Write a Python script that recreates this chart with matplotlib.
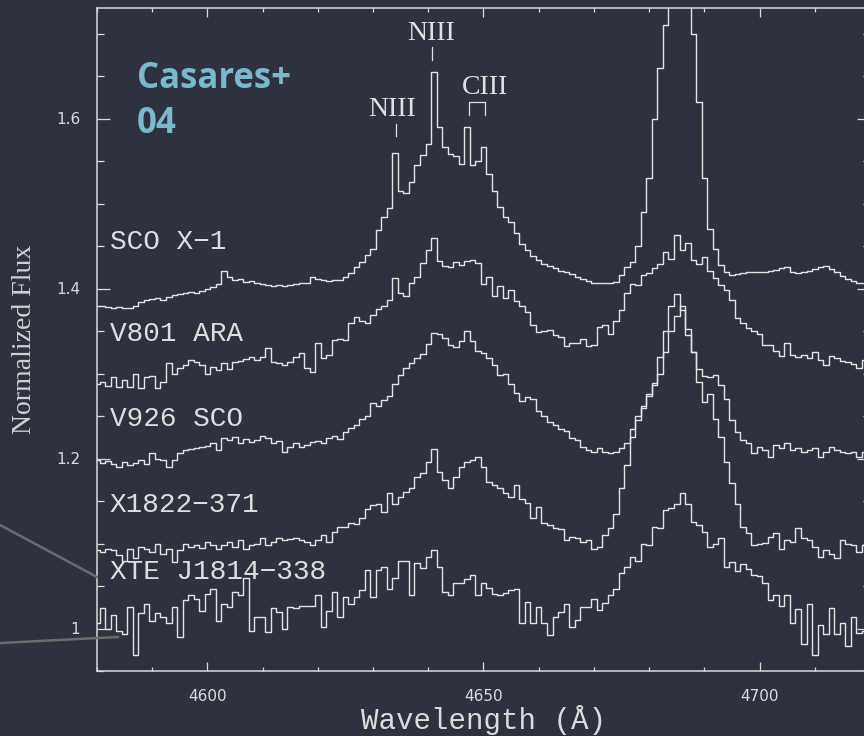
import numpy as np
import matplotlib
matplotlib.use("Agg")
import matplotlib.pyplot as plt
from matplotlib.lines import Line2D
from matplotlib.ticker import MultipleLocator, FormatStrFormatter

# wavelength grid (1 A bins) and normalized flux of each star
wave_start = 4580.0
wave_step = 1.0

sco_x1 = [
    1.379, 1.380, 1.378, 1.377, 1.378, 1.377, 1.377, 1.380, 1.384, 1.386,
    1.388, 1.389, 1.387, 1.390, 1.392, 1.393, 1.395, 1.396, 1.395, 1.397,
    1.400, 1.402, 1.405, 1.421, 1.413, 1.410, 1.411, 1.408, 1.409, 1.407,
    1.405, 1.404, 1.403, 1.404, 1.403, 1.404, 1.405, 1.406, 1.406, 1.414,
    1.411, 1.410, 1.409, 1.410, 1.410, 1.413, 1.418, 1.425, 1.431, 1.440,
    1.447, 1.469, 1.484, 1.495, 1.560, 1.515, 1.512, 1.525, 1.545, 1.557,
    1.570, 1.655, 1.590, 1.566, 1.558, 1.556, 1.546, 1.590, 1.545, 1.550,
    1.566, 1.535, 1.515, 1.496, 1.484, 1.478, 1.465, 1.452, 1.445, 1.438,
    1.433, 1.429, 1.426, 1.424, 1.421, 1.419, 1.417, 1.414, 1.411, 1.409,
    1.407, 1.406, 1.406, 1.406, 1.408, 1.416, 1.425, 1.431, 1.450, 1.490,
    1.530, 1.600, 1.660, 1.710, 1.780, 1.850, 1.860, 1.850, 1.700, 1.620,
    1.530, 1.470, 1.446, 1.428, 1.419, 1.416, 1.417, 1.418, 1.419, 1.420,
    1.420, 1.419, 1.421, 1.422, 1.424, 1.425, 1.420, 1.418, 1.420, 1.421,
    1.423, 1.425, 1.426, 1.423, 1.420, 1.415, 1.411, 1.409, 1.407, 1.406,
    1.406,
]

v801_ara = [
    1.288, 1.290, 1.285, 1.296, 1.284, 1.292, 1.284, 1.300, 1.283, 1.296,
    1.297, 1.283, 1.290, 1.312, 1.300, 1.307, 1.310, 1.316, 1.313, 1.310,
    1.300, 1.308, 1.304, 1.312, 1.305, 1.313, 1.315, 1.317, 1.319, 1.316,
    1.320, 1.330, 1.313, 1.312, 1.310, 1.313, 1.320, 1.324, 1.307, 1.302,
    1.336, 1.318, 1.322, 1.340, 1.341, 1.339, 1.360, 1.366, 1.362, 1.360,
    1.369, 1.376, 1.380, 1.386, 1.412, 1.395, 1.391, 1.406, 1.413, 1.430,
    1.445, 1.459, 1.432, 1.427, 1.425, 1.431, 1.428, 1.432, 1.433, 1.430,
    1.405, 1.413, 1.391, 1.403, 1.389, 1.398, 1.385, 1.380, 1.372, 1.357,
    1.349, 1.350, 1.351, 1.345, 1.343, 1.332, 1.336, 1.336, 1.341, 1.332,
    1.333, 1.355, 1.357, 1.347, 1.362, 1.375, 1.395, 1.405, 1.404, 1.416,
    1.418, 1.424, 1.429, 1.443, 1.435, 1.463, 1.445, 1.453, 1.433, 1.429,
    1.437, 1.421, 1.412, 1.404, 1.398, 1.386, 1.365, 1.359, 1.353, 1.350,
    1.347, 1.333, 1.333, 1.327, 1.321, 1.336, 1.322, 1.319, 1.322, 1.318,
    1.325, 1.316, 1.310, 1.321, 1.318, 1.315, 1.313, 1.311, 1.307, 1.316,
    1.316,
]

v926_sco = [
    1.198, 1.195, 1.197, 1.194, 1.190, 1.196, 1.192, 1.195, 1.198, 1.194,
    1.206, 1.200, 1.198, 1.190, 1.198, 1.206, 1.210, 1.211, 1.212, 1.214,
    1.215, 1.218, 1.210, 1.224, 1.222, 1.225, 1.218, 1.223, 1.219, 1.222,
    1.227, 1.224, 1.218, 1.221, 1.208, 1.214, 1.218, 1.214, 1.216, 1.220,
    1.221, 1.218, 1.224, 1.227, 1.223, 1.231, 1.236, 1.239, 1.247, 1.250,
    1.265, 1.262, 1.269, 1.274, 1.288, 1.298, 1.306, 1.312, 1.318, 1.323,
    1.335, 1.348, 1.346, 1.342, 1.333, 1.331, 1.338, 1.350, 1.338, 1.327,
    1.324, 1.318, 1.310, 1.298, 1.300, 1.288, 1.277, 1.268, 1.272, 1.270,
    1.256, 1.250, 1.243, 1.239, 1.235, 1.232, 1.224, 1.222, 1.214, 1.210,
    1.208, 1.212, 1.208, 1.206, 1.208, 1.212, 1.218, 1.235, 1.245, 1.260,
    1.274, 1.289, 1.319, 1.350, 1.380, 1.394, 1.375, 1.345, 1.325, 1.305,
    1.297, 1.296, 1.298, 1.286, 1.270, 1.245, 1.231, 1.222, 1.218, 1.206,
    1.214, 1.210, 1.202, 1.216, 1.212, 1.218, 1.210, 1.212, 1.208, 1.210,
    1.212, 1.202, 1.208, 1.214, 1.210, 1.208, 1.206, 1.208, 1.202, 1.208,
    1.206,
]

x1822_371 = [
    1.092, 1.090, 1.094, 1.092, 1.086, 1.080, 1.094, 1.083, 1.096, 1.094,
    1.090, 1.100, 1.088, 1.094, 1.078, 1.092, 1.100, 1.096, 1.098, 1.095,
    1.102, 1.098, 1.094, 1.098, 1.102, 1.096, 1.104, 1.094, 1.098, 1.100,
    1.107, 1.098, 1.102, 1.106, 1.104, 1.105, 1.107, 1.104, 1.102, 1.098,
    1.104, 1.110, 1.102, 1.113, 1.119, 1.120, 1.124, 1.123, 1.130, 1.141,
    1.145, 1.146, 1.137, 1.159, 1.147, 1.155, 1.161, 1.165, 1.178, 1.183,
    1.196, 1.211, 1.184, 1.175, 1.165, 1.178, 1.190, 1.196, 1.198, 1.202,
    1.190, 1.172, 1.169, 1.165, 1.160, 1.155, 1.169, 1.152, 1.148, 1.130,
    1.143, 1.124, 1.122, 1.118, 1.117, 1.104, 1.108, 1.106, 1.102, 1.104,
    1.094, 1.096, 1.110, 1.118, 1.135, 1.165, 1.192, 1.225, 1.250, 1.262,
    1.276, 1.287, 1.300, 1.325, 1.350, 1.368, 1.380, 1.352, 1.325, 1.290,
    1.266, 1.276, 1.246, 1.225, 1.196, 1.171, 1.147, 1.120, 1.112, 1.098,
    1.100, 1.101, 1.108, 1.112, 1.094, 1.104, 1.102, 1.118, 1.106, 1.104,
    1.096, 1.084, 1.092, 1.088, 1.083, 1.104, 1.100, 1.098, 1.090, 1.098,
    1.098,
]

xte_j1814 = [
    1.007, 1.024, 1.000, 1.016, 0.997, 0.994, 1.025, 0.969, 1.018, 1.029,
    1.009, 1.018, 1.013, 1.007, 1.025, 0.990, 1.033, 1.039, 1.035, 1.021,
    1.041, 1.047, 1.009, 1.029, 1.025, 1.043, 1.040, 1.059, 0.997, 1.013,
    1.013, 0.996, 1.024, 1.020, 1.000, 1.025, 1.024, 1.026, 1.026, 1.026,
    1.039, 1.002, 1.021, 1.043, 1.013, 1.037, 1.029, 1.037, 1.045, 1.069,
    1.037, 1.069, 1.072, 1.047, 1.060, 1.080, 1.080, 1.039, 1.077, 1.071,
    1.084, 1.092, 1.072, 1.043, 1.039, 1.053, 1.054, 1.058, 1.063, 1.039,
    1.054, 1.048, 1.041, 1.040, 1.042, 1.045, 1.047, 1.006, 1.031, 1.006,
    1.025, 1.007, 0.992, 1.013, 1.020, 1.029, 1.002, 1.010, 1.025, 1.025,
    1.035, 1.022, 1.030, 1.040, 1.046, 1.065, 1.072, 1.084, 1.080, 1.100,
    1.098, 1.120, 1.118, 1.139, 1.142, 1.147, 1.160, 1.147, 1.125, 1.122,
    1.114, 1.096, 1.100, 1.106, 1.072, 1.078, 1.068, 1.076, 1.070, 1.063,
    1.062, 1.053, 1.033, 1.039, 1.027, 1.039, 1.006, 1.023, 0.982, 1.029,
    0.969, 1.004, 0.994, 1.024, 0.994, 1.006, 0.980, 1.013, 0.995, 0.997,
    1.000,
]

star_names = ["SCO X\u22121", "V801 ARA", "V926 SCO", "X1822\u2212371", "XTE J1814\u2212338"]
spectra = [sco_x1, v801_ara, v926_sco, x1822_371, xte_j1814]

# identified emission lines: (label, rest wavelengths)
line_ids = [("NIII", [4640.6]), ("NIII", [4634.1]), ("CIII", [4647.4, 4650.2])]

bg = "#2e323e"
fg = "#e4e4e4"
mono = ["Liberation Mono", "DejaVu Sans Mono"]

fig = plt.figure(figsize=(8.64, 7.36), dpi=100, facecolor=bg)
ax = fig.add_axes([97 / 864, 65 / 736, 773 / 864, 663 / 736], facecolor=bg)

wave = wave_start + wave_step * np.arange(len(sco_x1))
for flux in spectra:
    ax.step(wave, flux, where="mid", color=fg, lw=1.0)

ax.set_xlim(4580, 4720)
ax.set_ylim(0.95, 1.73)

ax.xaxis.set_major_locator(MultipleLocator(50))
ax.xaxis.set_minor_locator(MultipleLocator(10))
ax.yaxis.set_major_locator(MultipleLocator(0.2))
ax.yaxis.set_minor_locator(MultipleLocator(0.05))
ax.yaxis.set_major_formatter(FormatStrFormatter("%g"))

for s in ax.spines.values():
    s.set_color("#dadada")
    s.set_linewidth(1.1)
ax.tick_params(which="both", direction="in", top=True, right=True, color="#dadada",
               labelcolor="#dcdcdc", labelsize=11, width=0.9)
ax.tick_params(axis="x", which="major", length=6.5, pad=13)
ax.tick_params(axis="x", which="minor", length=3.2)
ax.tick_params(axis="y", which="major", length=9.5, pad=12)
ax.tick_params(axis="y", which="minor", length=5)

ax.set_ylabel("Normalized Flux", family="Liberation Serif", fontsize=20,
              color="#d0d0d0", labelpad=14)
fig.text(483.7 / 864, 1 - 729 / 736, "Wavelength (\u00c5)", family=mono,
         fontsize=21, color="#dcdcdc", ha="center", va="baseline")

# star names on the left
label_y = [1.447, 1.338, 1.238, 1.137, 1.058]
for name, y in zip(star_names, label_y):
    ax.text(4582.3, y, name, family=mono, fontsize=20, color="#dedede",
            va="baseline", ha="left")

# line identifications
id_text = [(4640.5, 1.692), (4633.4, 1.603), (4650.3, 1.629)]
id_tick = [(1.669, 1.684), (1.579, 1.594), (1.604, 1.619)]
for (lab, waves), (tx, ty), (y0, y1) in zip(line_ids, id_text, id_tick):
    ax.text(tx, ty, lab, family="Liberation Serif", fontsize=20, color="#e0e0e0",
            ha="center", va="baseline")
    if len(waves) == 1:
        ax.plot([waves[0], waves[0]], [y0, y1], color="#e0e0e0", lw=0.9)
    else:
        ax.plot([waves[0], waves[0], waves[1], waves[1]], [y0, y1, y1, y0],
                color="#e0e0e0", lw=0.9)

# slide annotation
fig.text(137 / 864, 1 - 88 / 736, "Casares+", family="Open Sans", weight="bold",
         fontsize=25, color="#7ab8cb", va="baseline")
fig.text(137 / 864, 1 - 133 / 736, "04", family="Open Sans", weight="bold",
         fontsize=25, color="#7ab8cb", va="baseline")
fig.add_artist(Line2D([0, 97 / 864], [1 - 525 / 736, 1 - 577 / 736],
                      transform=fig.transFigure, color="#6b6b6b", lw=1.8))
fig.add_artist(Line2D([0, 118 / 864], [1 - 643 / 736, 1 - 637 / 736],
                      transform=fig.transFigure, color="#6b6b6b", lw=1.8))

fig.savefig("out.png", dpi=100, facecolor=bg)
